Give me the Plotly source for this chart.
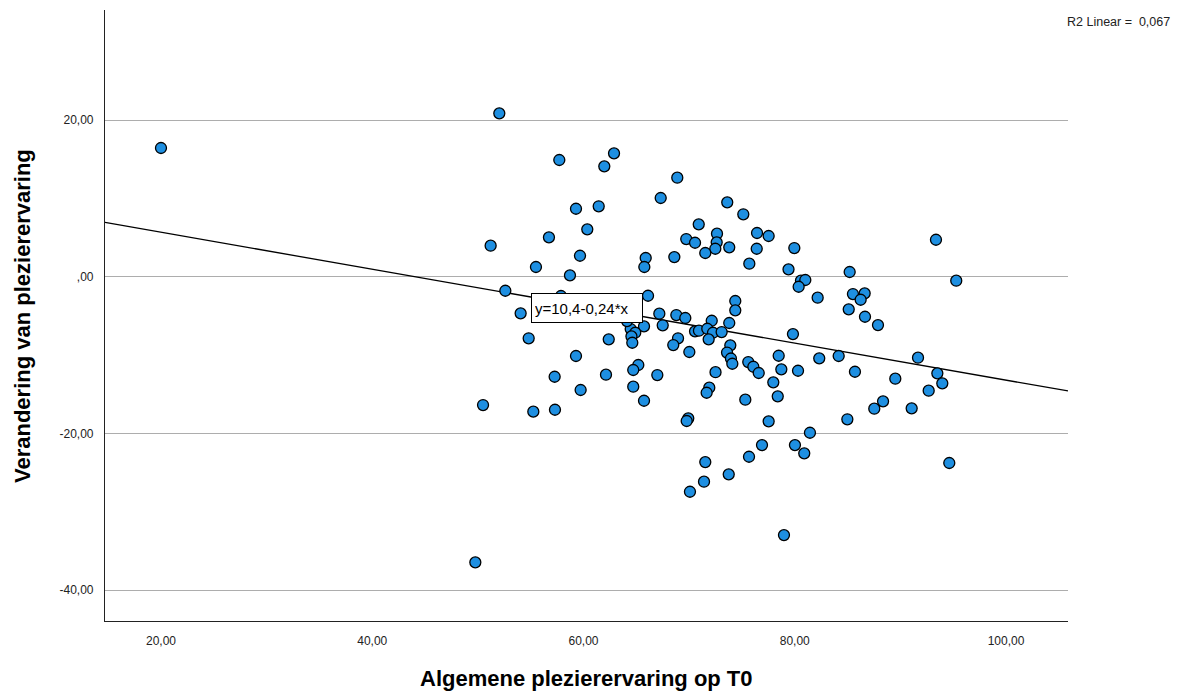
import plotly.graph_objects as go
import numpy as np

# Data
x_t0 = [20.00, 52.03, 57.71, 62.89, 61.97, 59.29, 61.44, 60.36, 56.73, 51.21,
        59.67, 55.50, 58.72, 52.60, 57.87, 54.05, 54.81, 62.39, 68.88, 67.31,
        73.61, 75.13, 70.91, 72.64, 69.73, 70.56, 72.61, 72.48, 71.53, 73.80,
        76.43, 77.53, 76.40, 75.70, 65.89, 65.76, 68.60, 79.41, 66.11, 74.37,
        74.37, 67.18, 68.79, 69.64, 72.14, 73.80, 67.50, 65.73, 70.56, 70.93,
        71.72, 72.26, 73.08, 71.85, 68.95, 68.50, 73.90, 70.02, 64.47, 64.90,
        64.54, 64.62, 64.12, 79.83, 93.37, 79.96, 85.20, 95.29, 80.59, 81.00,
        80.37, 82.17, 85.51, 86.62, 86.24, 85.11, 86.65, 87.88, 59.29, 57.27,
        62.13, 59.73, 50.49, 55.25, 57.30, 49.76, 65.19, 64.71, 66.99, 64.71,
        65.73, 73.59, 73.96, 74.09, 75.60, 76.08, 76.59, 78.48, 78.73, 77.97,
        78.39, 75.32, 72.50, 71.91, 71.66, 69.92, 69.77, 77.53, 76.90, 75.67,
        71.53, 71.41, 73.75, 70.08, 78.98, 82.32, 84.16, 91.67, 80.31, 85.70,
        89.52, 93.50, 93.97, 92.68, 88.36, 87.53, 91.07, 84.98, 81.44, 80.02,
        80.90, 94.63]
y_change = [16.43, 20.86, 14.90, 15.75, 14.09, 8.68, 8.99, 6.05, 5.03, 3.96,
            2.68, 1.24, 0.18, -1.79, -2.46, -4.67, -7.86, -7.99, 12.64, 10.05,
            9.50, 7.97, 6.69, 5.49, 4.81, 4.34, 4.39, 3.57, 3.03, 3.75,
            5.58, 5.20, 3.57, 1.66, 2.39, 1.24, 2.51, 0.94, -2.43, -3.10,
            -4.29, -4.72, -4.89, -5.27, -5.62, -5.91, -6.20, -6.33, -6.97, -6.89,
            -6.64, -7.15, -7.06, -7.99, -7.86, -8.72, -8.76, -9.61, -6.68, -7.15,
            -7.61, -8.43, -5.66, -7.32, 4.72, 3.66, 0.60, -0.51, -0.51, -0.42,
            -1.28, -2.68, -2.21, -2.12, -2.94, -4.16, -5.11, -6.17, -10.12, -12.77,
            -12.51, -14.46, -16.38, -17.23, -16.98, -36.46, -11.27, -11.91, -12.55, -14.04,
            -15.83, -9.68, -10.44, -11.11, -10.89, -11.49, -12.29, -10.09, -11.82, -13.48,
            -15.27, -15.70, -12.19, -14.17, -14.81, -18.08, -18.42, -18.46, -21.49, -22.98,
            -23.66, -26.17, -25.23, -27.45, -32.98, -10.42, -10.12, -10.34, -12.00, -12.13,
            -13.02, -12.33, -13.61, -14.55, -15.91, -16.85, -16.80, -18.20, -19.92, -21.49,
            -22.55, -23.78]

intercept = 10.4
slope = -0.236
r2_text = "R2 Linear =  0,067"
fit_label = "y=10,4-0,24*x"

x_ticks = [20, 40, 60, 80, 100]
x_ticktext = ["20,00", "40,00", "60,00", "80,00", "100,00"]
y_ticks = [-40, -20, 0, 20]
y_ticktext = ["-40,00", "-20,00", ",00", "20,00"]

x_range = [14.70, 105.87]
y_range = [-43.95, 34.05]

FONT = "Arial, Liberation Sans, sans-serif"

fig = go.Figure()

line_x = np.array(x_range)
line_y = intercept + slope * line_x
fig.add_trace(go.Scatter(x=line_x, y=line_y, mode="lines",
                         line=dict(color="black", width=1.3),
                         hoverinfo="skip", showlegend=False))

fig.add_trace(go.Scatter(x=x_t0, y=y_change, mode="markers",
                         marker=dict(size=11, color="#1E8FE1",
                                     line=dict(color="black", width=1.3)),
                         showlegend=False))

fig.update_layout(
    width=1178, height=683,
    margin=dict(l=97, r=118, t=2, b=70),
    paper_bgcolor="white", plot_bgcolor="white",
    font=dict(family=FONT, color="#222222", size=12),
    xaxis=dict(range=x_range, tickvals=x_ticks, ticktext=x_ticktext,
               showgrid=False, zeroline=False, showline=True,
               linecolor="#222222", linewidth=1.2, ticks="",
               ticklabelstandoff=8,
               tickfont=dict(size=12, family=FONT, color="#222222")),
    yaxis=dict(range=y_range, tickvals=y_ticks, ticktext=y_ticktext,
               showgrid=True, gridcolor="#ADADAD", gridwidth=1,
               zeroline=False, showline=True,
               linecolor="#222222", linewidth=1.2, ticks="",
               ticklabelstandoff=8,
               tickfont=dict(size=12, family=FONT, color="#222222")),
    annotations=[
        dict(text=fit_label, xref="x", yref="y", x=55.03, y=-4.0,
             xanchor="left", yanchor="middle", showarrow=False,
             font=dict(size=15, family=FONT, color="black"),
             bgcolor="white", bordercolor="black", borderwidth=1,
             borderpad=3, width=104, height=22, align="left"),
        dict(text=r2_text, xref="paper", yref="paper",
             x=(1172 - 105) / 963, y=(621 - 22) / 611,
             xanchor="right", yanchor="middle", showarrow=False,
             font=dict(size=12.5, family=FONT, color="#222222")),
        dict(text="<b>Algemene plezierervaring op T0</b>", xref="paper", yref="paper",
             x=0.5, y=(621 - 678) / 611, xanchor="center", yanchor="middle",
             showarrow=False, font=dict(size=22, family=FONT, color="black")),
        dict(text="<b>Verandering van plezierervaring</b>", xref="paper", yref="paper",
             x=(22 - 105) / 963, y=(621 - 316) / 611, xanchor="center", yanchor="middle",
             textangle=-90, showarrow=False,
             font=dict(size=22, family=FONT, color="black")),
    ],
)

fig.write_html("out.html")
